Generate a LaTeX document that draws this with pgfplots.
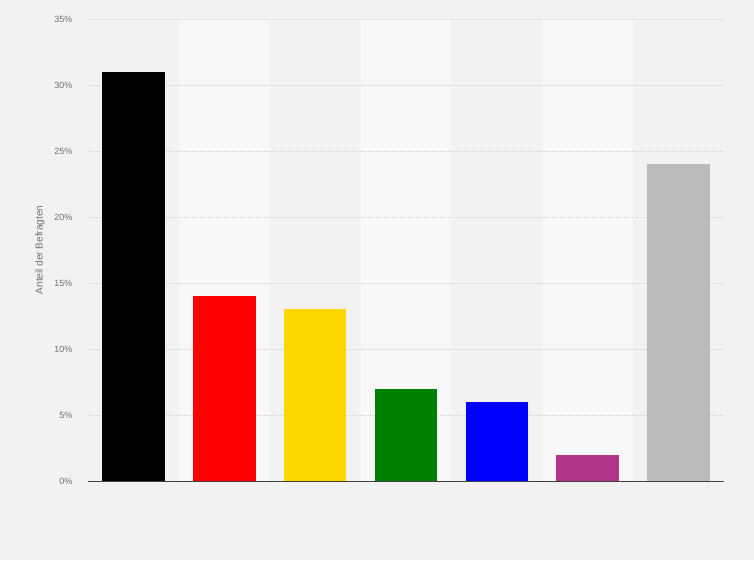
\documentclass[border=0pt]{standalone}
\usepackage{pgfplots}
\pgfplotsset{compat=1.18}
\usepackage{fontspec}
\setmainfont{Liberation Sans}
\definecolor{bg}{HTML}{F2F2F2}
\definecolor{band}{HTML}{F8F8F8}
\definecolor{gridc}{HTML}{D2D2D2}
\definecolor{labc}{HTML}{707070}
\definecolor{cyel}{HTML}{FCD700}
\definecolor{cgreen}{HTML}{008000}
\definecolor{cpurple}{HTML}{B1358B}
\definecolor{cgray}{HTML}{BBBBBB}
\pagecolor{bg}
\begin{document}
\begin{tikzpicture}
\path (0,0) rectangle (754pt,560pt);
\begin{axis}[
    set layers,
    at={(88pt,79pt)}, anchor=south west,
    scale only axis,
    width=636pt, height=462pt,
    xmin=-0.5, xmax=6.5,
    ymin=0, ymax=35,
    xtick=\empty,
    ytick={0,5,...,35},
    yticklabels={0\%,5\%,10\%,15\%,20\%,25\%,30\%,35\%},
    yticklabel style={font=\fontsize{9}{10}\selectfont, text=labc, anchor=east, xshift=-12pt},
    major tick length=0pt,
    ymajorgrids,
    grid style={gridc, line width=0.6pt, dash pattern=on 1pt off 1pt},
    axis x line*=bottom,
    axis y line*=left,
    x axis line style={-, draw=black!75, line width=1pt},
    y axis line style={draw=none},
    ylabel={Anteil der Befragten},
    ylabel style={at={(axis description cs:-0.0755,0.5)}, anchor=center, font=\fontsize{10}{11}\selectfont, text=labc},
]
\addplot[ybar, bar width=1, bar shift=0pt, fill=band, draw=none, on layer=axis background] coordinates {(1,35) (3,35) (5,35)};
\addplot[ybar, bar width=0.69, bar shift=0pt, fill=black, draw=none] coordinates {(0,31)};
\addplot[ybar, bar width=0.69, bar shift=0pt, fill=red, draw=none] coordinates {(1,14)};
\addplot[ybar, bar width=0.69, bar shift=0pt, fill=cyel, draw=none] coordinates {(2,13)};
\addplot[ybar, bar width=0.69, bar shift=0pt, fill=cgreen, draw=none] coordinates {(3,7)};
\addplot[ybar, bar width=0.69, bar shift=0pt, fill=blue, draw=none] coordinates {(4,6)};
\addplot[ybar, bar width=0.69, bar shift=0pt, fill=cpurple, draw=none] coordinates {(5,2)};
\addplot[ybar, bar width=0.69, bar shift=0pt, fill=cgray, draw=none] coordinates {(6,24)};
\end{axis}
\end{tikzpicture}
\end{document}
